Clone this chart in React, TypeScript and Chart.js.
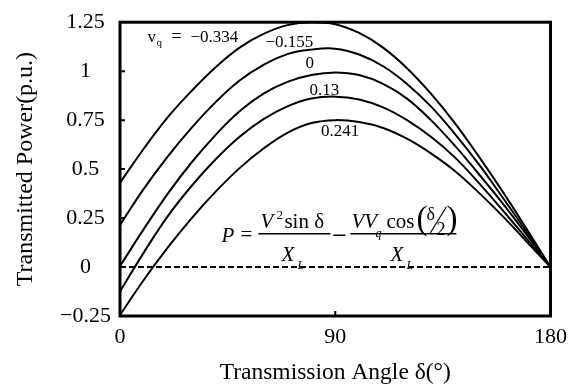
import React, { useEffect, useRef } from 'react';
import { Chart, registerables } from 'chart.js';

Chart.register(...registerables);

// Transmission angle (degrees)
const angles = [0, 10, 20, 30, 40, 50, 60, 70, 80, 90, 100, 110, 120, 130, 140, 150, 160, 170, 180];
// Transmitted power (p.u.) for each vq
const pVqMinus0334 = [0.43, 0.605, 0.765, 0.9, 1.02, 1.12, 1.19, 1.235, 1.25, 1.24, 1.195, 1.12, 1.015, 0.885, 0.735, 0.565, 0.385, 0.195, 0];
const pVqMinus0155 = [0.215, 0.4, 0.565, 0.712, 0.842, 0.952, 1.032, 1.087, 1.11, 1.115, 1.085, 1.025, 0.935, 0.82, 0.68, 0.525, 0.355, 0.18, 0];
const pVq0 = [0.005, 0.195, 0.375, 0.535, 0.675, 0.795, 0.885, 0.945, 0.98, 0.993, 0.98, 0.935, 0.86, 0.75, 0.62, 0.475, 0.325, 0.165, 0];
const pVq013 = [-0.125, 0.075, 0.26, 0.415, 0.55, 0.665, 0.755, 0.82, 0.86, 0.87, 0.855, 0.815, 0.75, 0.665, 0.56, 0.43, 0.29, 0.145, 0];
const pVq0241 = [-0.245, -0.065, 0.1, 0.25, 0.385, 0.505, 0.605, 0.685, 0.735, 0.75, 0.74, 0.71, 0.655, 0.58, 0.49, 0.38, 0.26, 0.13, 0];
const seriesValues = [pVqMinus0334, pVqMinus0155, pVq0, pVq013, pVq0241];
const vqLabels = ['−0.334', '−0.155', '0', '0.13', '0.241'];

const xTicks = [0, 90, 180];
const xTickLabels = ['0', '90', '180'];
const yTicks = [-0.25, 0, 0.25, 0.5, 0.75, 1, 1.25];
const yTickLabels = ['−0.25', '0', '0.25', '0.5', '0.75', '1', '1.25'];
const zeroLineX = [0, 180];
const zeroLineY = [0, 0];

const SERIF = '"Liberation Serif", "Times New Roman", serif';

const decorPlugin = {
  id: 'decor',
  afterDraw(chart: any) {
    const { ctx, chartArea, scales } = chart;
    const xs = scales.x;
    const ys = scales.y;
    const X = (v: number) => xs.getPixelForValue(v);
    const Y = (v: number) => ys.getPixelForValue(v);
    ctx.save();
    ctx.strokeStyle = '#000';
    ctx.fillStyle = '#000';

    // inward tick marks
    ctx.lineWidth = 2;
    ctx.beginPath();
    yTicks.forEach((v) => {
      if (v <= -0.25 || v >= 1.25 || v === 0) return;
      ctx.moveTo(chartArea.left, Y(v));
      ctx.lineTo(chartArea.left + 5, Y(v));
    });
    xTicks.forEach((v) => {
      if (v <= 0 || v >= 180) return;
      ctx.moveTo(X(v), chartArea.bottom);
      ctx.lineTo(X(v), chartArea.bottom - 5);
    });
    ctx.stroke();

    // frame
    ctx.lineWidth = 3;
    ctx.strokeRect(chartArea.left, chartArea.top, chartArea.right - chartArea.left, chartArea.bottom - chartArea.top);

    // curve labels (anchored in data coordinates)
    const labelAngles = [11.5, 70.8, 79.3, 85.5, 92];
    const labelValues = [1.15, 1.125, 1.015, 0.88, 0.67];
    ctx.textBaseline = 'alphabetic';
    {
      const lx = X(labelAngles[0]);
      const ly = Y(labelValues[0]);
      ctx.textAlign = 'left';
      ctx.font = `17px ${SERIF}`;
      ctx.fillText('v', lx, ly);
      ctx.font = `11px ${SERIF}`;
      ctx.fillText('q', lx + 9, ly + 4);
      ctx.font = `18px ${SERIF}`;
      ctx.fillText('=', lx + 24, ly);
      ctx.font = `17px ${SERIF}`;
      ctx.fillText(vqLabels[0], lx + 43, ly);
    }
    ctx.textAlign = 'center';
    ctx.font = `17px ${SERIF}`;
    for (let i = 1; i < vqLabels.length; i++) {
      ctx.fillText(vqLabels[i], X(labelAngles[i]), Y(labelValues[i]));
    }

    // formula
    const ox = X(42.4);
    const by = Y(0.17);
    const it = (s: number) => `italic ${s}px ${SERIF}`;
    const up = (s: number) => `${s}px ${SERIF}`;
    ctx.textAlign = 'left';
    ctx.font = it(21);
    ctx.fillText('P', ox, by + 8);
    ctx.font = up(21);
    ctx.fillText('=', ox + 19, by + 7);
    ctx.lineWidth = 1.4;
    ctx.beginPath();
    ctx.moveTo(ox + 37, by);
    ctx.lineTo(ox + 109, by);
    ctx.moveTo(ox + 129, by);
    ctx.lineTo(ox + 235, by);
    ctx.moveTo(ox + 112, by + 1.5);
    ctx.lineTo(ox + 124, by + 1.5);
    ctx.stroke();
    // numerator 1
    ctx.font = it(21);
    ctx.fillText('V', ox + 39, by - 6);
    ctx.font = up(13);
    ctx.fillText('2', ox + 55, by - 15);
    ctx.font = up(21);
    ctx.fillText('sin δ', ox + 63, by - 6);
    // denominator 1
    ctx.font = it(21);
    ctx.fillText('X', ox + 60, by + 27);
    ctx.font = it(12);
    ctx.fillText('L', ox + 76, by + 35);
    // numerator 2
    ctx.font = it(21);
    ctx.fillText('VV', ox + 130, by - 6);
    ctx.font = it(12);
    ctx.fillText('q', ox + 154, by + 3);
    ctx.font = up(21);
    ctx.fillText('cos', ox + 165, by - 6);
    ctx.font = up(33);
    ctx.fillText('(', ox + 195, by - 5);
    ctx.font = up(18);
    ctx.fillText('δ', ox + 205, by - 14);
    ctx.fillText('2', ox + 215, by + 1);
    ctx.lineWidth = 1.2;
    ctx.beginPath();
    ctx.moveTo(ox + 209, by - 1);
    ctx.lineTo(ox + 225, by - 27);
    ctx.stroke();
    ctx.font = up(33);
    ctx.fillText(')', ox + 225, by - 5);
    // denominator 2
    ctx.font = it(21);
    ctx.fillText('X', ox + 169, by + 27);
    ctx.font = it(12);
    ctx.fillText('L', ox + 185, by + 35);

    ctx.restore();
  },
};

export default function App() {
  const canvasRef = useRef<HTMLCanvasElement | null>(null);

  useEffect(() => {
    document.body.style.margin = '0';
    const canvas = canvasRef.current;
    if (!canvas) return;

    const curveSets = seriesValues.map((vals, i) => ({
      label: 'vq = ' + vqLabels[i],
      data: angles.map((a, j) => ({ x: a, y: vals[j] })),
      borderColor: '#000',
      borderWidth: 2,
      pointRadius: 0,
      fill: false,
      tension: 0.4,
    }));
    const zeroSet = {
      label: 'zero',
      data: zeroLineX.map((x, j) => ({ x, y: zeroLineY[j] })),
      borderColor: '#000',
      borderWidth: 2,
      borderDash: [6, 3],
      pointRadius: 0,
      fill: false,
    };

    const chart = new Chart(canvas, {
      type: 'line',
      data: { datasets: [zeroSet, ...curveSets] as any },
      plugins: [decorPlugin],
      options: {
        animation: false,
        responsive: true,
        maintainAspectRatio: false,
        layout: { padding: { top: 16, right: 18, left: 0, bottom: 0 } },
        plugins: { legend: { display: false }, tooltip: { enabled: false } },
        scales: {
          x: {
            type: 'linear',
            min: 0,
            max: 180,
            afterBuildTicks: (s: any) => {
              s.ticks = xTicks.map((v) => ({ value: v }));
            },
            afterFit: (s: any) => {
              s.height = 71;
            },
            ticks: {
              callback: (_v: any, i: number) => xTickLabels[i],
              font: { family: SERIF, size: 22 },
              color: '#000',
              padding: 8,
              maxRotation: 0,
              autoSkip: false,
            },
            grid: { display: false, drawTicks: false },
            border: { display: false },
            title: {
              display: true,
              text: 'Transmission Angle δ(°)',
              font: { family: SERIF, size: 23.5 },
              color: '#000',
              padding: { top: 0, bottom: 0 },
            },
          },
          y: {
            type: 'linear',
            min: -0.25,
            max: 1.25,
            afterBuildTicks: (s: any) => {
              s.ticks = yTicks.map((v) => ({ value: v }));
            },
            afterFit: (s: any) => {
              s.width = 120;
            },
            ticks: {
              callback: (_v: any, i: number) => yTickLabels[i],
              font: { family: SERIF, size: 22 },
              color: '#000',
              padding: 9,
              crossAlign: 'center',
              autoSkip: false,
            },
            grid: { display: false, drawTicks: false },
            border: { display: false },
            title: {
              display: true,
              text: 'Transmitted Power(p.u.)',
              font: { family: SERIF, size: 24 },
              color: '#000',
              padding: { top: 11, bottom: 0 },
            },
          },
        },
      } as any,
    });
    return () => chart.destroy();
  }, []);

  return (
    <div style={{ width: 575, height: 387, position: 'relative', background: '#fff' }}>
      <canvas ref={canvasRef} />
    </div>
  );
}
